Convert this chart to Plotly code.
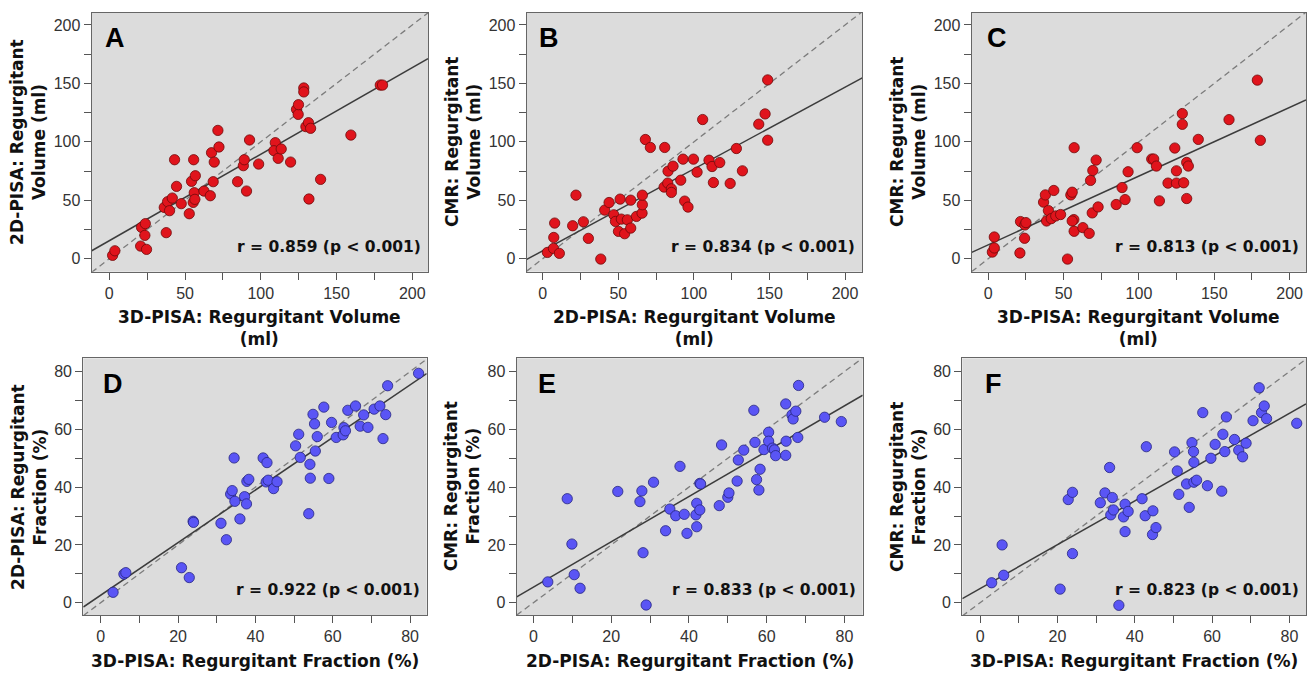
import plotly.graph_objects as go

W, H = 1312, 673

# ---------------- data ----------------
a_x = [2.2, 3.7, 20.7, 24.6, 21.3, 23.8, 23.5, 37.6, 36.3, 38.5, 39.8, 41.6, 44.4, 43.1, 47.5, 52.8, 54.3, 56.8, 55.7, 56.1,
       55.4, 56.5, 62.5, 66.7, 68.6, 67.5, 69.3, 71.7, 72.4, 84.7, 88.5, 89.1, 90.6, 92.6, 98.6, 109.6, 108.7, 111.5, 113.5,
       119.7, 123.6, 124.7, 124.9, 128.4, 128.4, 129.8, 131.5, 132.9, 131.8, 139.5, 159.5, 178.9, 180.4]
a_y = [2.9, 6.8, 10.8, 8.0, 26.8, 30.0, 20.0, 22.3, 43.9, 48.8, 41.1, 51.9, 61.9, 84.7, 47.1, 38.5, 66.2, 71.0, 84.7, 56.5,
       48.2, 50.8, 57.9, 53.9, 65.9, 90.7, 82.7, 109.8, 95.6, 65.9, 79.6, 84.7, 57.9, 101.6, 81.0, 99.3, 92.4, 85.9, 93.9,
       82.7, 127.8, 123.5, 131.8, 146.1, 142.7, 113.0, 116.4, 111.6, 51.1, 67.9, 105.8, 148.6, 148.6]

b_x = [3.1, 7.1, 7.3, 7.9, 11.0, 22.0, 19.8, 26.9, 30.2, 38.4, 41.0, 43.9, 47.0, 48.1, 50.1, 51.2, 52.0, 54.2, 56.0, 58.2,
       58.2, 62.0, 65.7, 65.9, 65.9, 67.9, 71.2, 80.7, 80.3, 82.7, 82.9, 85.1, 85.1, 86.2, 91.3, 92.8, 93.9, 96.1, 99.7,
       102.1, 105.8, 110.0, 112.0, 112.9, 117.1, 124.0, 128.1, 132.1, 142.9, 147.1, 148.8, 148.8]
b_y = [5.4, 8.8, 18.2, 30.5, 4.6, 54.4, 28.2, 31.6, 17.4, -0.3, 41.6, 48.1, 37.6, 31.9, 23.4, 51.0, 33.9, 21.4, 33.3, 26.2,
       50.1, 36.2, 39.0, 46.2, 54.4, 102.0, 95.2, 95.2, 61.3, 64.7, 74.9, 59.8, 56.7, 79.2, 67.2, 85.2, 49.3, 44.2, 85.2,
       74.1, 119.1, 84.3, 78.9, 65.2, 82.3, 64.4, 94.3, 75.2, 115.1, 123.9, 153.0, 101.4]

c_x = [2.7, 4.0, 4.0, 21.0, 21.4, 24.3, 25.0, 24.1, 36.7, 37.9, 39.9, 38.7, 41.8, 43.5, 44.8, 48.0, 52.6, 54.8, 55.7, 57.0,
       56.8, 55.7, 57.0, 62.8, 67.0, 67.9, 69.4, 71.6, 69.0, 72.9, 84.9, 88.8, 90.8, 92.8, 98.8, 108.5, 109.8, 111.6, 113.6,
       119.3, 123.8, 124.9, 124.9, 128.8, 128.8, 129.7, 131.7, 132.8, 131.7, 139.4, 159.8, 178.6, 180.6]
c_y = [5.7, 9.2, 18.6, 4.9, 31.8, 28.9, 30.9, 17.5, 48.4, 54.6, 41.2, 32.3, 34.3, 58.4, 36.6, 37.8, -0.3, 54.6, 56.9, 95.0,
       33.5, 32.3, 23.5, 26.6, 21.7, 67.0, 75.5, 84.4, 39.2, 44.3, 46.4, 60.9, 50.6, 74.4, 95.0, 85.3, 85.3, 79.3, 49.5,
       64.7, 94.7, 75.2, 64.7, 124.2, 115.0, 65.0, 82.4, 79.3, 51.5, 102.1, 119.0, 152.8, 101.3]

d_x = [3.2, 6.0, 6.5, 20.9, 22.9, 23.9, 24.0, 31.1, 32.5, 34.5, 33.6, 34.0, 34.7, 36.0, 37.2, 37.7, 37.8, 38.3, 42.0, 43.0,
       42.8, 43.3, 44.7, 45.6, 50.4, 51.2, 51.6, 53.8, 54.1, 54.2, 54.9, 55.3, 55.5, 56.0, 57.7, 59.0, 59.7, 60.9, 62.7,
       62.9, 63.3, 63.9, 65.9, 67.1, 68.0, 69.1, 70.7, 72.2, 73.7, 73.0, 74.2, 82.2]
d_y = [3.6, 9.9, 10.4, 12.1, 8.7, 28.2, 27.8, 27.5, 21.8, 50.1, 37.6, 38.8, 35.1, 29.0, 36.7, 34.2, 42.0, 42.7, 50.1, 48.5,
       41.8, 42.4, 39.5, 41.9, 54.3, 58.3, 50.3, 30.8, 47.9, 43.1, 65.2, 61.9, 52.5, 57.5, 67.7, 43.0, 62.4, 57.2, 58.1,
       60.6, 59.5, 66.6, 68.1, 61.1, 65.0, 60.7, 67.0, 68.1, 65.1, 56.8, 75.1, 79.4]

e_x = [3.7, 8.7, 9.9, 10.5, 12.0, 21.7, 27.4, 27.9, 28.2, 29.0, 30.9, 34.0, 35.1, 36.6, 37.7, 38.8, 39.5, 41.8, 42.0, 42.0,
       42.8, 42.8, 43.0, 47.8, 48.4, 50.0, 50.3, 52.4, 52.7, 54.1, 56.7, 57.0, 57.4, 58.0, 58.3, 59.3, 60.5, 60.5, 61.5,
       62.0, 62.3, 64.9, 65.0, 64.9, 66.5, 66.8, 67.5, 68.0, 68.2, 74.9, 79.2]
e_y = [7.2, 36.0, 20.3, 9.7, 5.0, 38.5, 35.0, 38.7, 17.3, -0.8, 41.7, 24.9, 32.4, 30.1, 47.2, 30.6, 24.0, 30.4, 34.4, 26.3,
       32.1, 41.3, 41.1, 33.6, 54.6, 36.5, 38.0, 42.1, 49.4, 52.8, 66.6, 55.5, 42.6, 39.0, 46.2, 53.0, 59.0, 55.9, 53.5,
       52.9, 50.9, 68.8, 55.9, 51.0, 65.0, 63.6, 66.3, 57.2, 75.2, 64.2, 62.7]

f_x = [3.0, 5.7, 6.1, 20.7, 22.8, 23.9, 23.9, 31.1, 32.3, 33.5, 34.2, 33.8, 34.5, 35.9, 37.1, 37.5, 37.5, 38.3, 41.9, 42.7,
       43.0, 44.7, 44.6, 45.5, 50.3, 51.0, 51.4, 53.4, 54.1, 54.8, 55.2, 55.3, 55.3, 56.0, 57.6, 58.8, 59.7, 60.8, 62.5,
       62.8, 63.3, 63.7, 65.8, 66.9, 67.9, 68.8, 70.6, 72.2, 72.8, 73.5, 74.1, 81.9]
f_y = [6.9, 20.0, 9.5, 4.7, 35.7, 38.2, 17.0, 34.6, 38.0, 46.8, 36.4, 30.4, 32.1, -0.9, 29.7, 34.1, 24.6, 31.6, 36.0, 30.1,
       54.0, 31.8, 23.6, 26.0, 52.2, 45.6, 37.5, 41.1, 33.0, 55.4, 52.3, 48.6, 41.7, 42.4, 65.8, 40.5, 50.0, 54.8, 38.6,
       58.3, 52.3, 64.3, 56.5, 52.8, 50.5, 55.2, 63.0, 74.4, 65.8, 68.1, 63.7, 62.1]

panel_letters = ["A", "B", "C", "D", "E", "F"]
r_labels = ["r = 0.859 (p < 0.001)", "r = 0.834 (p < 0.001)", "r = 0.813 (p < 0.001)",
            "r = 0.922 (p < 0.001)", "r = 0.833 (p < 0.001)", "r = 0.823 (p < 0.001)"]
# regression line (intercept, slope)
fit_intercepts = [15.4, 6.8, 11.9, 2.6, 5.4, 4.9]
fit_slopes = [0.74, 0.70, 0.588, 0.91, 0.784, 0.758]
x_titles = ["3D-PISA: Regurgitant Volume<br>(ml)", "2D-PISA: Regurgitant Volume<br>(ml)",
            "3D-PISA: Regurgitant Volume<br>(ml)", "3D-PISA: Regurgitant Fraction (%)",
            "2D-PISA: Regurgitant Fraction (%)", "3D-PISA: Regurgitant Fraction (%)"]
y_titles = ["2D-PISA: Regurgitant<br>Volume (ml)", "CMR: Regurgitant<br>Volume (ml)", "CMR: Regurgitant<br>Volume (ml)",
            "2D-PISA: Regurgitant<br>Fraction (%)", "CMR: Regurgitant<br>Fraction (%)", "CMR: Regurgitant<br>Fraction (%)"]

xs = [a_x, b_x, c_x, d_x, e_x, f_x]
ys = [a_y, b_y, c_y, d_y, e_y, f_y]

# ---------------- layout (pixels) ----------------
# plot-area boxes: left, right, top, bottom
boxes = [(91.7, 428.0, 12.7, 271.7), (526.7, 862.3, 12.7, 271.7), (971.7, 1306.0, 12.7, 271.7),
         (83.3, 426.7, 358.3, 615.0), (516.7, 862.7, 358.3, 615.0), (962.3, 1306.0, 358.3, 615.0)]
xranges = [(-11.6, 210.4), (-10.6, 211.4), (-11.0, 210.9), (-4.5, 84.3), (-4.3, 84.7), (-4.6, 84.3)]
yrange_top = (-11.1, 210.5)
yrange_bot = (-4.26, 84.6)
letter_off = [(11, 14), (10, 14), (13, 14), (18, 15), (19, 15), (21, 15)]

RED = dict(color="#e0141c", line=dict(color="#6e0a0a", width=0.8))
BLUE = dict(color="#5a55f5", line=dict(color="#262680", width=0.8))


def fx(p):
    return p / W


def fy(p):
    return 1 - p / H


fig = go.Figure()
annotations = []
layout = {}

TICKFONT = dict(family="Liberation Sans, Arial, sans-serif", size=16, color="#333333")
TITLEFONT = dict(family="DejaVu Sans, Verdana, sans-serif", size=17, color="#111111")

for i in range(6):
    n = i + 1
    xa = "x" if n == 1 else f"x{n}"
    ya = "y" if n == 1 else f"y{n}"
    l, r, t, b = boxes[i]
    top = i < 3
    xr = xranges[i]
    yr = yrange_top if top else yrange_bot
    dt, mdt = (50, 25) if top else (20, 10)

    # identity line (dashed) and fitted regression line, spanning the axis range
    fig.add_trace(go.Scatter(x=[xr[0], xr[1]], y=[xr[0], xr[1]], mode="lines", xaxis=xa, yaxis=ya,
                             line=dict(color="#7c7c7c", width=1.3, dash="6px,4px"), hoverinfo="skip",
                             showlegend=False))
    fig.add_trace(go.Scatter(x=[xr[0], xr[1]],
                             y=[fit_intercepts[i] + fit_slopes[i] * xr[0], fit_intercepts[i] + fit_slopes[i] * xr[1]],
                             mode="lines", xaxis=xa, yaxis=ya, line=dict(color="#3c3c3c", width=1.5),
                             hoverinfo="skip", showlegend=False))
    mk = dict(size=10.3, **(RED if top else BLUE))
    fig.add_trace(go.Scatter(x=xs[i], y=ys[i], mode="markers", xaxis=xa, yaxis=ya, marker=mk,
                             showlegend=False, cliponaxis=False))

    axcommon = dict(showgrid=False, zeroline=False, showline=True, mirror=True, linecolor="#666666",
                    linewidth=1.3, ticks="outside", ticklen=7, tickwidth=1.1, tickcolor="#555555",
                    tickfont=TICKFONT, dtick=dt, tick0=0,
                    minor=dict(ticks="outside", ticklen=7, tickwidth=1.1, tickcolor="#555555", dtick=mdt,
                               tick0=0, showgrid=False))
    layout["xaxis" if n == 1 else f"xaxis{n}"] = dict(domain=[fx(l), fx(r)], range=list(xr), anchor=ya,
                                                      **axcommon)
    layout["yaxis" if n == 1 else f"yaxis{n}"] = dict(domain=[fy(b), fy(t)], range=list(yr), anchor=xa,
                                                      **axcommon)

    # panel letter
    annotations.append(dict(text=panel_letters[i], xref="paper", yref="paper", x=fx(l + letter_off[i][0]),
                            y=fy(t + letter_off[i][1] - 6), xanchor="left", yanchor="top", showarrow=False,
                            font=dict(family="Liberation Sans, Arial, sans-serif", size=27, color="#000000",
                                      weight="bold")))
    # r annotation
    annotations.append(dict(text=r_labels[i], xref="paper", yref="paper", x=fx(r - 5), y=fy(b - 25),
                            xanchor="right", yanchor="middle", showarrow=False,
                            font=dict(family="DejaVu Sans, Verdana, sans-serif", size=15.5, color="#111111",
                                      weight="bold")))
    # x title
    xt_y = 328 if top else 661
    annotations.append(dict(text=x_titles[i], xref="paper", yref="paper", x=fx((l + r) / 2), y=fy(xt_y),
                            xanchor="center", yanchor="middle", showarrow=False,
                            font=dict(TITLEFONT, weight="bold")))
    # y title
    yt_x = l - (64 if top else 55)
    annotations.append(dict(text=y_titles[i], xref="paper", yref="paper", x=fx(yt_x), y=fy((t + b) / 2),
                            xanchor="center", yanchor="middle", textangle=-90, showarrow=False,
                            font=dict(TITLEFONT, weight="bold")))

fig.update_layout(width=W, height=H, margin=dict(l=0, r=0, t=0, b=0), paper_bgcolor="white",
                  plot_bgcolor="#dcdcdc", annotations=annotations, showlegend=False, **layout)

fig.write_html("out.html", config={"displayModeBar": False},
               post_script="document.body.style.margin='0';document.body.style.overflow='hidden';")
